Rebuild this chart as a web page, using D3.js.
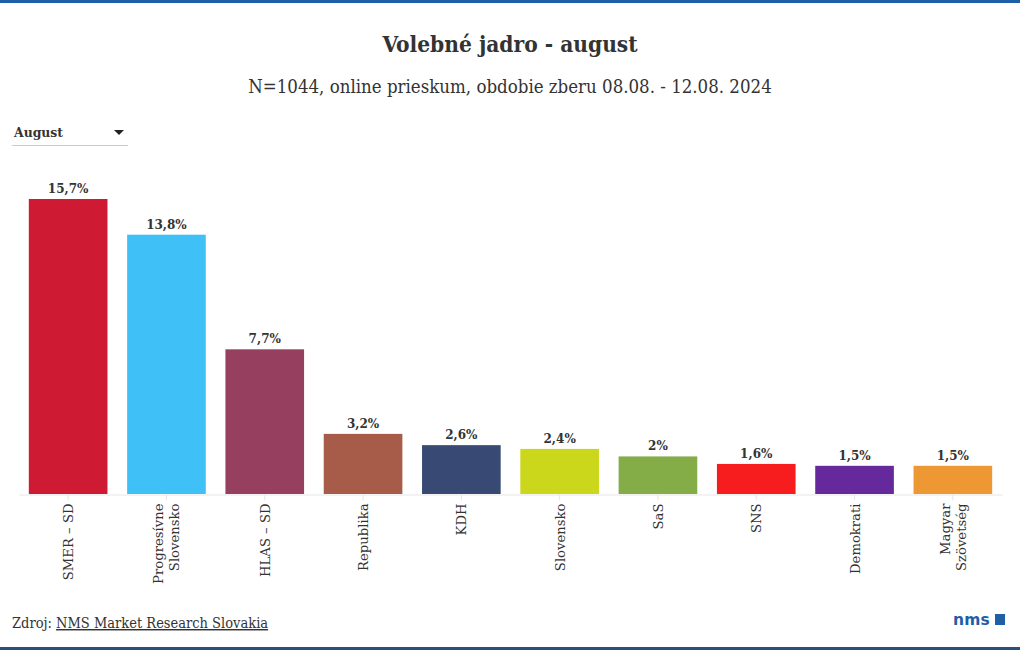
<!DOCTYPE html>
<html><head><meta charset="utf-8">
<script src="https://cdn.jsdelivr.net/npm/d3@7"></script>
<style>
body{margin:0;background:#fff;}
svg{display:block;}
</style></head>
<body>
<svg id="chart" width="1020" height="650"></svg>
<script>
const categories = ["SMER – SD", "Progresívne|Slovensko", "HLAS – SD", "Republika", "KDH", "Slovensko", "SaS", "SNS", "Demokrati", "Magyar|Szövetség"];
const values = [15.7, 13.8, 7.7, 3.2, 2.6, 2.4, 2.0, 1.6, 1.5, 1.5];
const valueLabels = ["15,7%", "13,8%", "7,7%", "3,2%", "2,6%", "2,4%", "2%", "1,6%", "1,5%", "1,5%"];
const colors = ["#cf1a33", "#3fc0f6", "#973f5f", "#a65c48", "#384a74", "#cbd71b", "#85ad47", "#f71c1e", "#65299b", "#ee9834"];
const title = "Volebné jadro - august";
const subtitle = "N=1044, online prieskum, obdobie zberu 08.08. - 12.08. 2024";

const serif = "'DejaVu Serif', 'Liberation Serif', serif";
const serifC = "'DejaVu Serif Condensed', 'DejaVu Serif', serif";
const svg = d3.select("#chart");

// frame lines
svg.append("rect").attr("x",0).attr("y",0).attr("width",1020).attr("height",3).attr("fill","#1f5fa8");
svg.append("rect").attr("x",0).attr("y",647).attr("width",1020).attr("height",3).attr("fill","#2d4f7c");

svg.append("text").attr("x",510).attr("y",52).attr("text-anchor","middle")
  .attr("font-family",serifC).attr("font-weight","bold")
  .attr("font-size",22.5).attr("fill","#333").text(title);
svg.append("text").attr("x",510).attr("y",93).attr("text-anchor","middle")
  .attr("font-family",serifC)
  .attr("font-size",18.5).attr("fill","#333").text(subtitle);

// dropdown
svg.append("text").attr("x",14).attr("y",137).attr("font-family",serifC).attr("font-weight","bold")
  .attr("font-size",13.8).attr("fill","#333").text("August");
svg.append("line").attr("x1",12).attr("x2",128).attr("y1",145.5).attr("y2",145.5).attr("stroke","#ccc");
svg.append("path").attr("d","M114,130 L124,130 L119,135 Z").attr("fill","#222");

// scales
const x = d3.scaleBand().domain(categories).range([19, 1002]).paddingInner(0.2).paddingOuter(0.1);
const y = d3.scaleLinear().domain([0, 15.7]).range([494, 199]);

svg.selectAll("rect.bar").data(values).join("rect").attr("class","bar")
  .attr("x",(d,i)=>x(categories[i])).attr("width",x.bandwidth())
  .attr("y",d=>y(d)).attr("height",d=>y(0)-y(d)).attr("fill",(d,i)=>colors[i]);

svg.selectAll("text.val").data(values).join("text").attr("class","val")
  .attr("x",(d,i)=>x(categories[i])+x.bandwidth()/2).attr("y",d=>y(d)-6)
  .attr("text-anchor","middle").attr("font-family",serif).attr("font-weight","bold")
  .attr("font-size",12).attr("fill","#333").text((d,i)=>valueLabels[i]);

// axis
const axis = d3.axisBottom(x).tickSize(6).tickSizeOuter(0);
const g = svg.append("g").attr("transform","translate(0,494.5)").call(axis);
g.select(".domain").attr("stroke","#e6e6e6");
g.selectAll(".tick line").attr("stroke","#e6e6e6");
g.selectAll(".tick text").remove();
g.selectAll(".tick").each(function(d){
  const lines = d.split("|");
  const t = d3.select(this).append("text")
    .attr("transform","rotate(-90)")
    .attr("text-anchor","end").attr("font-family",serif).attr("font-size",13.2).attr("fill","#333");
  const n = lines.length;
  lines.forEach((ln,k)=>{
    t.append("tspan").attr("x",-9).attr("y",0).attr("dy",(5 + (k-(n-1)/2)*16)+"px").text(ln);
  });
});

// footer
const f = svg.append("text").attr("x",12).attr("y",628).attr("font-family",serifC).attr("font-size",14.5).attr("fill","#333");
f.append("tspan").text("Zdroj: ");
f.append("tspan").attr("text-decoration","underline").text("NMS Market Research Slovakia");

svg.append("text").attr("x",953).attr("y",625).attr("font-family","'DejaVu Sans', sans-serif").attr("font-weight","bold")
  .attr("font-size",15.5).attr("fill","#1f5fa8").attr("letter-spacing","0.2").text("nms");
svg.append("rect").attr("x",995).attr("y",614).attr("width",10).attr("height",11).attr("fill","#1f5fa8");
</script>
</body></html>
